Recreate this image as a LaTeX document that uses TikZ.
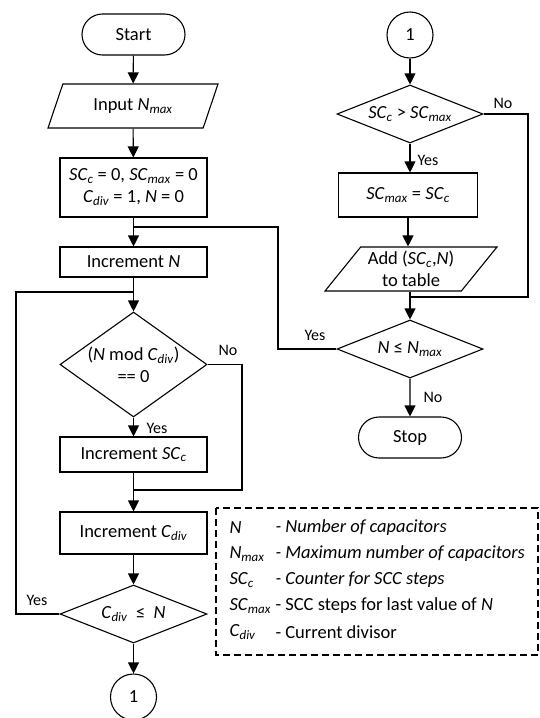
\documentclass[tikz,border=0pt]{standalone}
\usepackage{fontspec}
\setmainfont{Carlito}
\usetikzlibrary{shapes.geometric,shapes.misc,arrows.meta}
\newcommand{\varsub}[2]{\textit{#1}\textsubscript{\textit{#2}}}
\tikzset{
	flow/.style={line width=1.1pt},
	arr/.style={flow, -{Triangle[length=11pt,width=11pt]}},
	termbox/.style={draw, line width=1.1pt, rounded rectangle, minimum width=103pt, minimum height=41pt, inner sep=0pt},
	procbox/.style={draw, line width=1.1pt, rectangle, minimum width=147pt, inner sep=0pt, align=center},
	iobox/.style={draw, line width=1.1pt, trapezium, trapezium left angle=45, trapezium right angle=135, trapezium stretches body, minimum height=44pt, inner sep=0pt, align=center},
	decbox/.style={draw, line width=1.1pt, diamond, minimum width=147pt, inner sep=0pt},
	dectext/.style={align=center, inner sep=0pt},
	conn/.style={draw, line width=1.1pt, circle, minimum size=46pt, inner sep=0pt},
	lbl/.style={font=\fontsize{16}{19}\selectfont},
}
\begin{document}
\begin{tikzpicture}[x=1pt, y=-1pt, font=\fontsize{18.5}{22}\selectfont]
	\useasboundingbox (0,0) rectangle (539,718);
	
	\node[termbox] (start) at (133.5,34.5) {Start};
	\node[iobox, minimum width=170pt] (input) at (133,106) {Input \varsub{N}{max}};
	\node[procbox, minimum height=59pt] (init) at (133.5,187.5) {\varsub{SC}{c} = 0, \varsub{SC}{max} = 0\\\varsub{C}{div} = 1, \textit{N} = 0};
	\node[procbox, minimum height=30pt] (incN) at (133.5,262) {Increment \textit{N}};
	\node[decbox, minimum height=105pt] (dmod) at (133.5,364.5) {};
	\node[dectext] (dmodtxt) at (dmod) {(\textit{N} mod \varsub{C}{div})\\== 0};
	\node[procbox, minimum height=35pt] (incSC) at (133.5,454.5) {Increment \varsub{SC}{c}};
	\node[procbox, minimum height=42pt] (incCd) at (133.5,533) {Increment \varsub{C}{div}};
	\node[decbox, minimum height=58pt] (dcdiv) at (133.5,614) {};
	\node[dectext] (dcdivtxt) at (dcdiv) {\varsub{C}{div}\ \ ≤\ \ \textit{N}};
	\node[conn] (outA) at (133.5,697) {1};
	
	\node[conn] (inA) at (410,35) {1};
	\node[decbox, minimum width=146pt, minimum height=58pt] (dsc) at (410,114) {};
	\node[dectext] (dsctxt) at (dsc) {\varsub{SC}{c} > \varsub{SC}{max}};
	\node[procbox, minimum width=139pt, minimum height=44pt] (setmax) at (408,195) {\varsub{SC}{max} = \varsub{SC}{c}};
	\node[iobox, minimum width=172pt] (addtab) at (411,269) {Add (\varsub{SC}{c},\textit{N})\\to table};
	\node[decbox, minimum width=146pt, minimum height=58pt] (dn) at (410,349) {};
	\node[dectext] (dntxt) at (dn) {\textit{N} ≤ \varsub{N}{max}};
	\node[termbox] (stop) at (410,437.5) {Stop};
	
	\coordinate (jA) at (133.5,227);
	\coordinate (jB) at (133.5,292);
	\coordinate (jC) at (133.5,490);
	\coordinate (jD) at (410,297);
	\coordinate (loopR) at (278,227);
	\coordinate (loopL) at (16,292);
	\coordinate (skipA) at (242,490);
	\coordinate (skipB) at (528,297);
	
	\draw[arr] (start) -- (input);
	\draw[arr] (input) -- (init);
	\draw[arr] (init) -- (incN);
	\draw[arr] (incN) -- (dmod);
	\draw[arr] (dmod) -- (incSC);
	\draw[arr] (incSC) -- (incCd);
	\draw[arr] (incCd) -- (dcdiv);
	\draw[arr] (dcdiv) -- (outA);
	\draw[flow] (dmod.east) -| (skipA) -- (jC);
	\draw[flow] (dcdiv.west) -| (loopL) -- (jB);
	\draw[flow] (dn.west) -| (loopR) -- (jA);
	\node[lbl] (noA) at (228,350) {No};
	\node[lbl] (yesA) at (157,428) {Yes};
	\node[lbl] (yesB) at (37,600) {Yes};
	
	\draw[arr] (inA) -- (dsc);
	\draw[arr] (dsc) -- (setmax.north -| dsc.south);
	\draw[arr] (setmax) -- (addtab.north -| setmax.south);
	\draw[arr] (addtab.south -| dn.north) -- (dn);
	\draw[arr] (dn) -- (stop);
	\draw[flow] (dsc.east) -| (skipB) -- (jD);
	\node[lbl] (noB) at (503,103) {No};
	\node[lbl] (yesC) at (428,160) {Yes};
	\node[lbl] (yesD) at (315,335) {Yes};
	\node[lbl] (noC) at (433,397) {No};
	
	\draw[flow, dash pattern=on 7pt off 4pt] (216,508) rectangle (538,655);
	\foreach \y/\s/\d in {528/\textit{N}/\textit{- Number of capacitors}, 554/\varsub{N}{max}/\textit{- Maximum number of capacitors}, 580/\varsub{SC}{c}/\textit{- Counter for SCC steps}, 606/\varsub{SC}{max}/- SCC steps for last value of \textit{N}, 632/\varsub{C}{div}/- Current divisor} {
		\node[anchor=west] at (226,\y) {\s};
		\node[anchor=west] at (272,\y) {\d};
	}
\end{tikzpicture}
\end{document}
